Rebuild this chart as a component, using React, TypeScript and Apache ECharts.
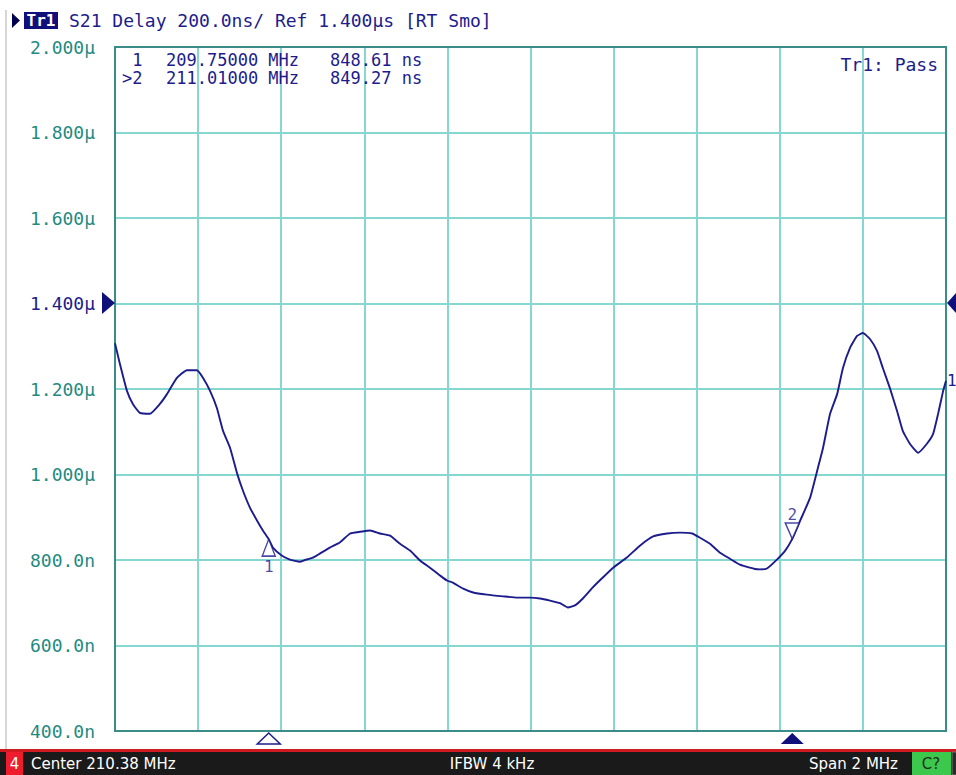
import React, { useEffect, useRef } from "react";
import * as echarts from "echarts";

// ---- data ----
const CENTER_MHZ = 210.38;
const SPAN_MHZ = 2;
const X_DIVISIONS = 10;

const freqMHz = [
  209.380, 209.392, 209.409, 209.423, 209.440, 209.464, 209.488, 209.505, 209.529, 209.553,
  209.577, 209.592, 209.609, 209.625, 209.640, 209.657, 209.674, 209.688, 209.705, 209.722,
  209.736, 209.750, 209.760, 209.782, 209.801, 209.813, 209.825, 209.837, 209.849, 209.861,
  209.873, 209.897, 209.921, 209.946, 209.970, 209.994, 210.018, 210.042, 210.066, 210.090,
  210.114, 210.138, 210.162, 210.179, 210.193, 210.218, 210.242, 210.275, 210.314, 210.348,
  210.379, 210.403, 210.427, 210.451, 210.470, 210.487, 210.506, 210.530, 210.554, 210.579,
  210.612, 210.644, 210.675, 210.709, 210.740, 210.769, 210.788, 210.812, 210.836, 210.860,
  210.884, 210.908, 210.920, 210.932, 210.949, 210.973, 210.993, 211.010, 211.029, 211.053,
  211.070, 211.084, 211.101, 211.118, 211.132, 211.149, 211.166, 211.180, 211.197, 211.214,
  211.228, 211.245, 211.262, 211.276, 211.293, 211.313, 211.334, 211.349, 211.361, 211.373,
  211.380,
];

const delayNs = [
  1307, 1258, 1195, 1165, 1144, 1142, 1165, 1188, 1226, 1244,
  1244, 1226, 1195, 1156, 1102, 1062, 1002, 962, 922, 892,
  869, 848.61, 829, 810, 801, 798, 796, 800, 803, 808,
  815, 829, 841, 862, 866, 869, 862, 857, 838, 822,
  799, 782, 764, 752, 747, 733, 724, 719, 715, 712,
  712, 710, 705, 699, 689, 694, 710, 736, 759, 782,
  806, 834, 855, 862, 864, 862, 852, 838, 817, 803,
  789, 782, 779, 778, 780, 801, 822, 849.27, 892, 946,
  1009, 1062, 1142, 1188, 1249, 1296, 1324, 1331, 1317, 1289,
  1249, 1202, 1149, 1102, 1072, 1051, 1072, 1095, 1142, 1195,
  1219,
];

const markerNames = ["1", "2"];
const markerFreqMHz = [209.75, 211.01];
const markerDelayNs = [848.61, 849.27];
const activeMarker = 1;

const Y_MIN_NS = 400;
const Y_MAX_NS = 2000;
const Y_STEP_NS = 200;
const REF_NS = 1400;

const traceName = "Tr1";
const headerText = "S21 Delay 200.0ns/ Ref 1.400µs [RT Smo]";
const limitText = "Tr1: Pass";
const channelText = "4";
const statusLeft = "Center 210.38 MHz";
const statusMid = "IFBW 4 kHz";
const statusRight = "Span 2 MHz";
const statusFlag = "C?";

// ---- styles ----
const NAVY = "#1c1c8c";
const TEAL = "#1f8a82";
const GRIDC = "#86d6d2";
const BORDER = "#3a8c88";
const MONO = "DejaVu Sans Mono";
const SANS = "DejaVu Sans";

const fmtY = (v: number) =>
  v >= 1000 ? (v / 1000).toFixed(3) + "µ" : v.toFixed(1) + "n";

export default function App() {
  const ref = useRef<HTMLDivElement>(null);

  useEffect(() => {
    if (!ref.current) return;
    const chart = echarts.init(ref.current, undefined, { renderer: "svg" });

    const G = { left: 115, top: 47, width: 831, height: 684 };
    const traceData = freqMHz.map((f, i) => [f - CENTER_MHZ, delayNs[i]]);

    const readoutStyle = (text: string) => ({
      text, fill: NAVY, font: `17px '${MONO}'`, textAlign: "left", textVerticalAlign: "middle",
    });
    const readouts: any[] = [];
    markerNames.forEach((n, i) => {
      const y = 59.5 + i * 18.5;
      readouts.push(
        { type: "text", z: 5, x: 122, y, style: readoutStyle(`${i === activeMarker ? ">" : " "}${n}`) },
        { type: "text", z: 5, x: 166, y, style: readoutStyle(`${markerFreqMHz[i].toFixed(5)} MHz`) },
        { type: "text", z: 5, x: 330, y, style: readoutStyle(`${markerDelayNs[i].toFixed(2)} ns`) }
      );
    });

    const baseGraphic: any[] = [
      { type: "line", shape: { x1: 6, y1: 10, x2: 6, y2: 750 }, style: { stroke: "#c8c8c8", lineWidth: 1.5 } },
      { type: "polygon", shape: { points: [[12, 13], [20, 20.5], [12, 28]] }, style: { fill: "#000050" } },
      { type: "rect", shape: { x: 24, y: 12, width: 34, height: 17 }, style: { fill: "#10107a" } },
      { type: "text", x: 41, y: 20.5, style: { text: traceName, fill: "#ffffff", font: `bold 16px '${MONO}'`, textAlign: "center", textVerticalAlign: "middle" } },
      { type: "text", x: 69, y: 20.5, style: { text: headerText, fill: NAVY, font: `18px '${MONO}'`, textAlign: "left", textVerticalAlign: "middle" } },
      { type: "rect", z: 1, shape: { x: G.left, y: G.top, width: G.width, height: G.height }, style: { fill: "none", stroke: BORDER, lineWidth: 2 } },
      ...readouts,
      { type: "text", z: 5, x: 938, y: 64, style: { text: limitText, fill: NAVY, font: `18px '${MONO}'`, textAlign: "right", textVerticalAlign: "middle" } },
      { type: "polygon", z: 5, shape: { points: [[102, 292], [115, 303], [102, 314]] }, style: { fill: "#10107a" } },
      { type: "polygon", z: 5, shape: { points: [[957, 292], [947, 303], [957, 314]] }, style: { fill: "#10107a" } },
      // status bar
      { type: "rect", shape: { x: 0, y: 749, width: 956, height: 3 }, style: { fill: "#d01a22" } },
      { type: "rect", shape: { x: 0, y: 752, width: 956, height: 23 }, style: { fill: "#1a1a1a" } },
      { type: "rect", shape: { x: 6, y: 752, width: 17, height: 23 }, style: { fill: "#ee1c2c" } },
      { type: "text", x: 14.5, y: 764, style: { text: channelText, fill: "#ffffff", font: `15px '${SANS}'`, textAlign: "center", textVerticalAlign: "middle" } },
      { type: "text", x: 31, y: 764, style: { text: statusLeft, fill: "#ffffff", font: `15px '${SANS}'`, textAlign: "left", textVerticalAlign: "middle" } },
      { type: "text", x: 492, y: 764, style: { text: statusMid, fill: "#ffffff", font: `15px '${SANS}'`, textAlign: "center", textVerticalAlign: "middle" } },
      { type: "text", x: 898, y: 764, style: { text: statusRight, fill: "#ffffff", font: `15px '${SANS}'`, textAlign: "right", textVerticalAlign: "middle" } },
      { type: "rect", shape: { x: 912, y: 752, width: 39, height: 23 }, style: { fill: "#3cc84c" } },
      { type: "text", x: 931, y: 764, style: { text: statusFlag, fill: "#1c301c", font: `15px '${SANS}'`, textAlign: "center", textVerticalAlign: "middle" } },
      { type: "rect", shape: { x: 952, y: 752, width: 6, height: 23 }, style: { fill: "#2a2a2a", stroke: "#777", lineWidth: 1 } },
    ];

    const option: any = {
      animation: false,
      backgroundColor: "#ffffff",
      grid: { ...G, show: false },
      xAxis: {
        type: "value",
        min: -SPAN_MHZ / 2,
        max: SPAN_MHZ / 2,
        interval: SPAN_MHZ / X_DIVISIONS,
        axisLine: { show: false },
        axisTick: { show: false },
        axisLabel: { show: false },
        splitLine: { show: true, lineStyle: { color: GRIDC, width: 2 } },
      },
      yAxis: {
        type: "value",
        min: Y_MIN_NS,
        max: Y_MAX_NS,
        interval: Y_STEP_NS,
        axisLine: { show: false },
        axisTick: { show: false },
        axisLabel: {
          margin: 20,
          fontFamily: MONO,
          fontSize: 18,
          color: (v: any) => (Number(v) === REF_NS ? NAVY : TEAL),
          formatter: (v: number) => fmtY(v),
        },
        splitLine: { show: true, lineStyle: { color: GRIDC, width: 2 } },
      },
      series: [
        {
          type: "line",
          data: traceData,
          showSymbol: false,
          smooth: 0.15,
          z: 3,
          lineStyle: { color: NAVY, width: 1.9 },
          endLabel: { show: true, formatter: markerNames[0], color: NAVY, fontFamily: MONO, fontSize: 16, distance: 1 },
        },
        {
          type: "scatter",
          z: 4,
          data: [[markerFreqMHz[0] - CENTER_MHZ, markerDelayNs[0]]],
          symbol: "triangle",
          symbolSize: [13, 17],
          symbolOffset: [0, 8.5],
          itemStyle: { color: "#ffffff", borderColor: NAVY, borderWidth: 1.5 },
          label: { show: true, position: "bottom", distance: 1, formatter: markerNames[0], color: NAVY, fontFamily: MONO, fontSize: 16 },
        },
        {
          type: "scatter",
          z: 4,
          data: [[markerFreqMHz[1] - CENTER_MHZ, markerDelayNs[1]]],
          symbol: "path://M0,0L10,0L5,10Z",
          symbolSize: [14, 16],
          symbolOffset: [0, -8],
          itemStyle: { color: "#ffffff", borderColor: NAVY, borderWidth: 1.5 },
          label: { show: true, position: "top", distance: 0, formatter: markerNames[1], color: NAVY, fontFamily: MONO, fontSize: 16 },
        },
      ],
      graphic: baseGraphic,
    };

    chart.setOption(option);

    // marker indicators under the grid, placed through the x scale
    const under: any[] = markerFreqMHz.map((f, i) => {
      const px = chart.convertToPixel({ xAxisIndex: 0 }, f - CENTER_MHZ) as number;
      const top = G.top + G.height + 2;
      const active = i === activeMarker;
      return {
        type: "polygon",
        z: 5,
        shape: { points: [[px, top], [px + 11.5, top + 11], [px - 11.5, top + 11]] },
        style: active ? { fill: "#10107a" } : { fill: "#ffffff", stroke: NAVY, lineWidth: 1.5 },
      };
    });
    chart.setOption({ graphic: [...baseGraphic, ...under] });

    return () => chart.dispose();
  }, []);

  return (
    <div
      ref={ref}
      style={{ position: "fixed", left: 0, top: 0, width: 956, height: 775, background: "#fff" }}
    />
  );
}
